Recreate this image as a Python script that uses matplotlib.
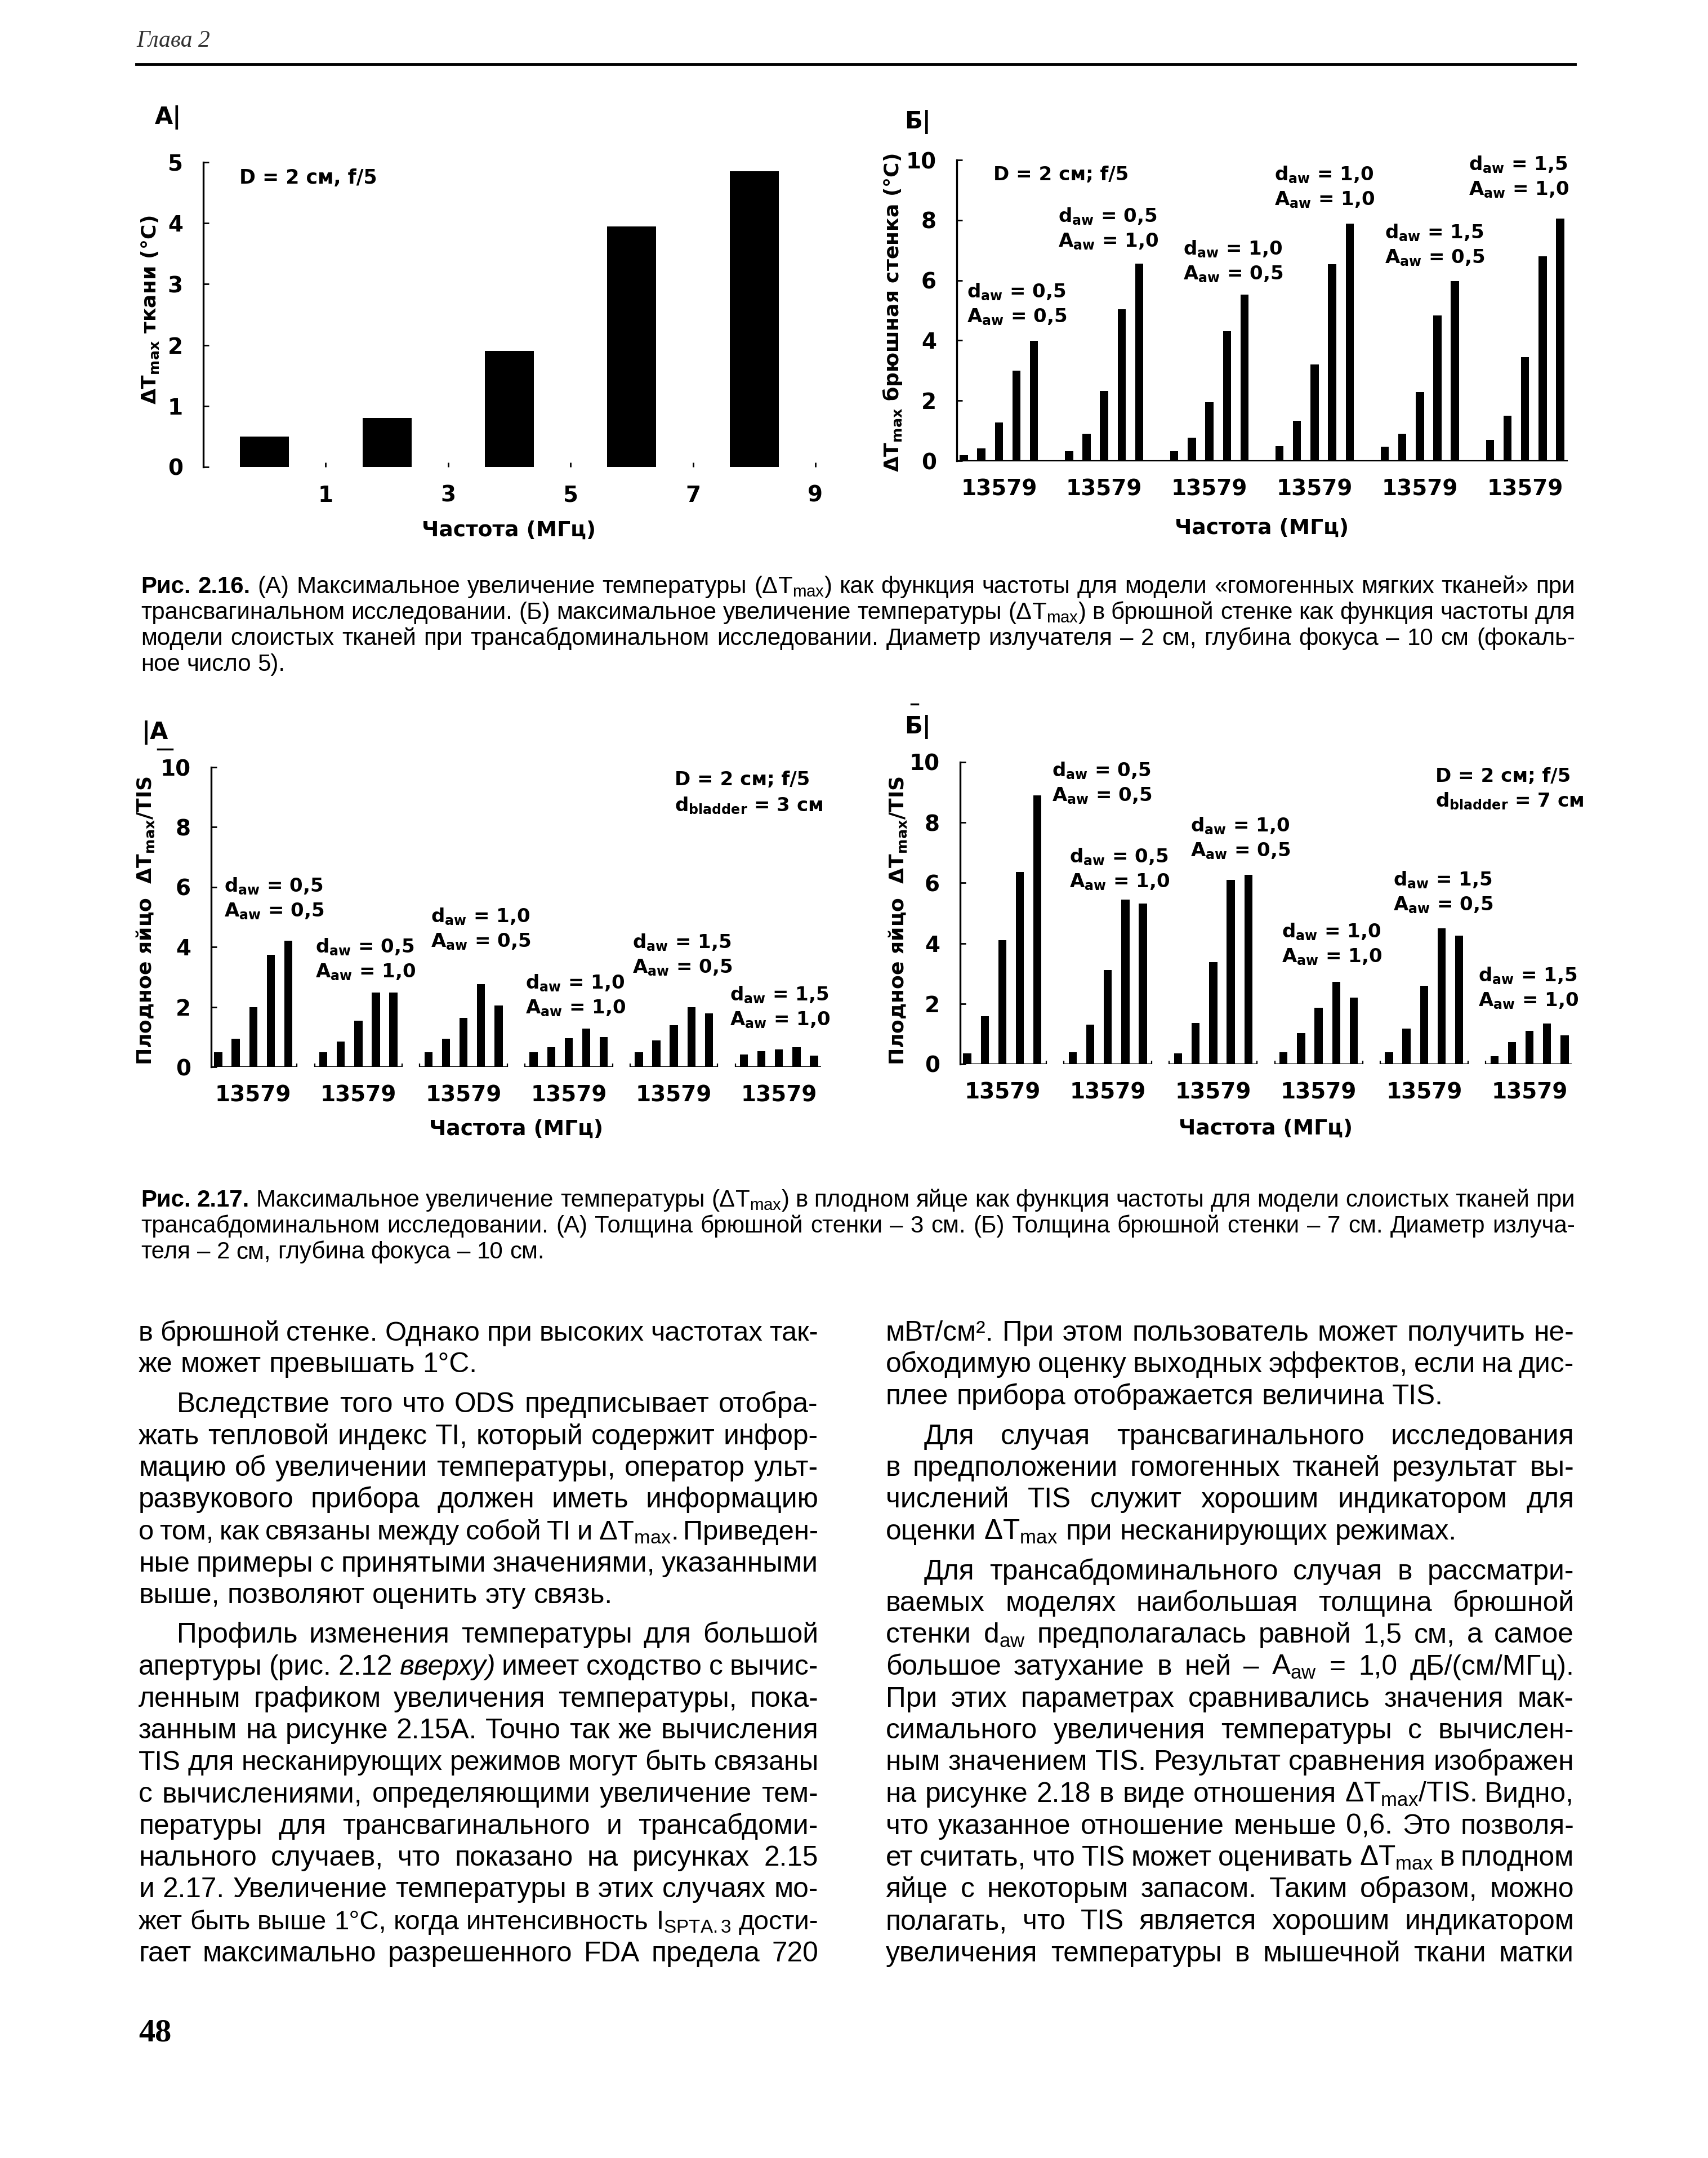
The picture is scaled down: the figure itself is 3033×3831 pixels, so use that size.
import matplotlib
matplotlib.use('Agg')
import matplotlib.pyplot as plt
from matplotlib.lines import Line2D
import numpy as np

W, H, DPI = 3033, 3831, 100

plt.rcParams['font.family'] = ['DejaVu Sans']
plt.rcParams['mathtext.fontset'] = 'custom'
plt.rcParams['mathtext.rm'] = 'Liberation Sans'
plt.rcParams['mathtext.it'] = 'Liberation Sans:italic'
plt.rcParams['mathtext.bf'] = 'Liberation Sans:bold'
TEXT_FONT = ['Liberation Sans', 'DejaVu Sans']

# ---- data ----
freqs = ['1', '3', '5', '7', '9']                 # МГц
tissue_dt = [0.5, 0.8, 1.9, 3.95, 4.85]           # рис. 2.16 А

d_aw = ['0,5', '0,5', '1,0', '1,0', '1,5', '1,5']
a_aw = ['0,5', '1,0', '0,5', '1,0', '0,5', '1,0']

wall_dt = [[0.18, 0.42, 1.28, 3.0, 3.98],         # рис. 2.16 Б
           [0.32, 0.9, 2.33, 5.04, 6.55],
           [0.32, 0.76, 1.95, 4.3, 5.52],
           [0.49, 1.33, 3.2, 6.53, 7.88],
           [0.46, 0.89, 2.29, 4.83, 5.98],
           [0.69, 1.5, 3.45, 6.8, 8.06]]

egg_ratio_3cm = [[0.48, 0.94, 2.0, 3.75, 4.21],   # рис. 2.17 А
                 [0.48, 0.85, 1.54, 2.48, 2.48],
                 [0.48, 0.94, 1.64, 2.77, 2.05],
                 [0.48, 0.65, 0.96, 1.28, 0.99],
                 [0.48, 0.88, 1.4, 2.0, 1.79],
                 [0.41, 0.53, 0.59, 0.65, 0.38]]

egg_ratio_7cm = [[0.36, 1.58, 4.11, 6.36, 8.9],   # рис. 2.17 Б
                 [0.4, 1.31, 3.11, 5.45, 5.31],
                 [0.35, 1.36, 3.37, 6.1, 6.27],
                 [0.4, 1.03, 1.87, 2.73, 2.2],
                 [0.4, 1.17, 2.6, 4.5, 4.26],
                 [0.26, 0.72, 1.1, 1.34, 0.96]]

# where the d/A notes sit (page pixels, first line)
wall_notes = [(1717, 518), (1879, 384), (2101, 442), (2263, 310), (2459, 413), (2608, 292)]
egg3_notes = [(398, 1573), (560, 1681), (765, 1627), (933, 1745), (1123, 1673), (1296, 1766)]
egg7_notes = [(1868, 1368), (1899, 1521), (2114, 1466), (2276, 1654), (2474, 1562), (2625, 1732)]

cap16 = ["§Рис. §2.16. (А) Максимальное увеличение температуры (ΔT$_{\\mathrm{max}}$) как функция частоты для модели «гомогенных мягких тканей» при",
         "трансвагинальном исследовании. (Б) максимальное увеличение температуры (ΔT$_{\\mathrm{max}}$) в брюшной стенке как функция частоты для",
         "модели слоистых тканей при трансабдоминальном исследовании. Диаметр излучателя – 2 см, глубина фокуса – 10 см (фокаль-",
         "ное число 5)."]
cap17 = ["§Рис. §2.17. Максимальное увеличение температуры (ΔT$_{\\mathrm{max}}$) в плодном яйце как функция частоты для модели слоистых тканей при",
         "трансабдоминальном исследовании. (А) Толщина брюшной стенки – 3 см. (Б) Толщина брюшной стенки – 7 см. Диаметр излуча-",
         "теля – 2 см, глубина фокуса – 10 см."]

left_paras = [
    (False, ["в брюшной стенке. Однако при высоких частотах так-",
             "же может превышать 1°С."], True),
    (True, ["Вследствие того что ODS предписывает отобра-",
            "жать тепловой индекс TI, который содержит инфор-",
            "мацию об увеличении температуры, оператор ульт-",
            "развукового прибора должен иметь информацию",
            "о том, как связаны между собой TI и ΔT$_{\\mathrm{max}}$. Приведен-",
            "ные примеры с принятыми значениями, указанными",
            "выше, позволяют оценить эту связь."], True),
    (True, ["Профиль изменения температуры для большой",
            "апертуры (рис. 2.12 ¤вверху) имеет сходство с вычис-",
            "ленным графиком увеличения температуры, пока-",
            "занным на рисунке 2.15А. Точно так же вычисления",
            "TIS для несканирующих режимов могут быть связаны",
            "с вычислениями, определяющими увеличение тем-",
            "пературы для трансвагинального и трансабдоми-",
            "нального случаев, что показано на рисунках 2.15",
            "и 2.17. Увеличение температуры в этих случаях мо-",
            "жет быть выше 1°С, когда интенсивность I$_{\\mathrm{SPTA.3}}$ дости-",
            "гает максимально разрешенного FDA предела 720"], False),
]
right_paras = [
    (False, ["мВт/см². При этом пользователь может получить не-",
             "обходимую оценку выходных эффектов, если на дис-",
             "плее прибора отображается величина TIS."], True),
    (True, ["Для случая трансвагинального исследования",
            "в предположении гомогенных тканей результат вы-",
            "числений TIS служит хорошим индикатором для",
            "оценки ΔT$_{\\mathrm{max}}$ при несканирующих режимах."], True),
    (True, ["Для трансабдоминального случая в рассматри-",
            "ваемых моделях наибольшая толщина брюшной",
            "стенки d$_{\\mathrm{aw}}$ предполагалась равной 1,5 см, а самое",
            "большое затухание в ней – A$_{\\mathrm{aw}}$ = 1,0 дБ/(см/МГц).",
            "При этих параметрах сравнивались значения мак-",
            "симального увеличения температуры с вычислен-",
            "ным значением TIS. Результат сравнения изображен",
            "на рисунке 2.18 в виде отношения ΔT$_{\\mathrm{max}}$/TIS. Видно,",
            "что указанное отношение меньше 0,6. Это позволя-",
            "ет считать, что TIS может оценивать ΔT$_{\\mathrm{max}}$ в плодном",
            "яйце с некоторым запасом. Таким образом, можно",
            "полагать, что TIS является хорошим индикатором",
            "увеличения температуры в мышечной ткани матки"], False),
]

fig = plt.figure(figsize=(W / DPI, H / DPI), dpi=DPI)
fig.patch.set_facecolor('white')
renderer = fig.canvas.get_renderer()


def ftext(x, y, s, **kw):
    return fig.text(x / W, 1 - y / H, s, **kw)


def fline(x0, x1, y0, y1, lw):
    fig.add_artist(Line2D([x0 / W, x1 / W], [1 - y0 / H, 1 - y1 / H], color='black', lw=lw))


def px_axes(l, t, r, b):
    return fig.add_axes([l / W, 1 - b / H, (r - l) / W, (b - t) / H])


def style(ax, yticks):
    for s in ['top', 'right', 'bottom']:
        ax.spines[s].set_visible(False)
    ax.spines['left'].set_linewidth(2.4)
    ax.set_yticks(yticks, [str(v) for v in yticks], fontsize=28, fontweight='bold')
    ax.tick_params(axis='y', direction='in', length=7, width=2, pad=26)
    ax.tick_params(axis='x', direction='in', length=0, pad=23)
    ax.set_facecolor('none')


def grouped(ax, data, segmented):
    n = len(freqs)
    step = n + 1
    centers = []
    for g, vals in enumerate(data):
        x = g * step + np.arange(n)
        ax.bar(x, vals, width=0.46, color='black', linewidth=0)
        if segmented:
            ax.hlines(0, x[0] - 0.5, x[-1] + 0.5, color='black', lw=1.6)
            ax.vlines([x[0] - 0.5, x[-1] + 0.5], 0, 0.12, color='black', lw=1.6)
        centers.append(x.mean())
    ax.set_xlim(-0.4, len(data) * step - 1.6)
    ax.set_xticks(centers, [''.join(freqs)] * len(data), fontsize=28, fontweight='bold')


def notes(pos, size=24.5):
    for (x, y), d, a in zip(pos, d_aw, a_aw):
        ftext(x, y, 'd$_{\\mathbf{aw}}$ = ' + d, fontsize=size, fontweight='bold',
              va='center', math_fontfamily='dejavusans')
        ftext(x, y + 45, 'A$_{\\mathbf{aw}}$ = ' + a, fontsize=size, fontweight='bold',
              va='center', math_fontfamily='dejavusans')


def chart_text(x, y, s, size, rot=0, ha='center'):
    ftext(x, y, s, fontsize=size, fontweight='bold', rotation=rot, ha=ha,
          va='center', math_fontfamily='dejavusans')


# ---- header ----
ftext(242, 73, 'Глава 2', family=['Liberation Serif', 'DejaVu Serif'], style='italic',
      fontsize=30, va='center', color='#333333')
fline(242, 2797, 114, 114, 3.5)

# ---- 2.16 A ----
ax = px_axes(361, 288, 1448, 829)
n = len(tissue_dt)
ax.bar(np.arange(n) * 2, tissue_dt, width=0.8, color='black', linewidth=0)
ax.set_xlim(-1, 2 * n - 1)
ax.set_ylim(0, 5)
style(ax, [0, 1, 2, 3, 4, 5])
ax.set_xticks(np.arange(n) * 2 + 1, freqs, fontsize=28, fontweight='bold')
ax.tick_params(axis='x', direction='in', length=6, width=2)
chart_text(298, 208, 'А|', 30, ha='center')
ftext(425, 316, 'D = 2 см, f/5', fontsize=25, fontweight='bold', va='center')
chart_text(267, 550, 'ΔT$_{\\mathbf{max}}$ ткани (°C)', 26, rot=90)
chart_text(904, 942, 'Частота (МГц)', 27)

# ---- 2.16 Б ----
ax = px_axes(1699, 284, 2783, 818)
grouped(ax, wall_dt, False)
ax.set_ylim(0, 10)
style(ax, [0, 2, 4, 6, 8, 10])
ax.spines['bottom'].set_visible(True)
ax.spines['bottom'].set_linewidth(1.6)
chart_text(1630, 216, 'Б|', 30)
ftext(1764, 310, 'D = 2 см; f/5', fontsize=24.5, fontweight='bold', va='center')
notes(wall_notes)
chart_text(1585, 555, 'ΔT$_{\\mathbf{max}}$ брюшная стенка (°C)', 26, rot=90)
chart_text(2241, 938, 'Частота (МГц)', 27)

# ---- captions and body text helpers ----


def parse(line):
    out = []
    for w in line.split(' '):
        st = {}
        if w.startswith('§'):
            w, st = w[1:], dict(weight='bold')
        elif w.startswith('¤'):
            w, st = w[1:], dict(style='italic')
        out.append((w, st))
    return out


def word_width(s, size, st):
    t = fig.text(0, 0, s, fontsize=size, family=TEXT_FONT, **st)
    w = t.get_window_extent(renderer).width
    t.remove()
    return w


def space_width(size):
    return word_width('x x', size, {}) - word_width('xx', size, {})


def natural_ratio(line, avail, size):
    words = parse(line)
    ws = sum(word_width(w, size, st) for w, st in words)
    return avail / (ws + (len(words) - 1) * space_width(size))


def draw_line(line, x0, x1, y, size, justify):
    words = parse(line)
    while True:
        ws = [word_width(w, size, st) for w, st in words]
        sp = space_width(size)
        ng = max(len(words) - 1, 1)
        if sum(ws) + ng * 0.75 * sp <= x1 - x0:
            break
        size *= 0.985
    gap = (x1 - x0 - sum(ws)) / ng if (justify and len(words) > 1) else sp
    x = x0
    for (w, st), wd in zip(words, ws):
        ftext(x, y, w, fontsize=size, family=TEXT_FONT, va='baseline', ha='left', **st)
        x += wd + gap


CAP_X0, CAP_X1 = 250, 2797
cap_size = 30 * np.percentile([natural_ratio(l, CAP_X1 - CAP_X0, 30) for l in cap16[:-1] + cap17[:-1]], 35)
for i, l in enumerate(cap16):
    draw_line(l, CAP_X0, CAP_X1, 1042 + i * 46 + 11, cap_size, i < len(cap16) - 1)
for i, l in enumerate(cap17):
    draw_line(l, CAP_X0, CAP_X1, 2131 + i * 46 + 11, cap_size, i < len(cap17) - 1)

# ---- 2.17 A ----
ax = px_axes(375, 1362, 1458, 1894)
grouped(ax, egg_ratio_3cm, True)
ax.set_ylim(0, 10)
style(ax, [0, 2, 4, 6, 8, 10])
chart_text(275, 1300, '|А', 30)
fline(280, 306, 1330, 1330, 2.5)
ftext(1198, 1384, 'D = 2 см; f/5', fontsize=24.5, fontweight='bold', va='center')
ftext(1198, 1430, 'd$_{\\mathbf{bladder}}$ = 3 см', fontsize=24.5, fontweight='bold', va='center',
      math_fontfamily='dejavusans')
notes(egg3_notes)
chart_text(258, 1634, 'Плодное яйцо  ΔT$_{\\mathbf{max}}$/TIS', 26, rot=90)
chart_text(917, 2005, 'Частота (МГц)', 27)

# ---- 2.17 Б ----
ax = px_axes(1705, 1353, 2791, 1889)
grouped(ax, egg_ratio_7cm, True)
ax.set_ylim(0, 10)
style(ax, [0, 2, 4, 6, 8, 10])
chart_text(1630, 1290, 'Б|', 30)
fline(1618, 1630, 1250, 1250, 2.5)
ftext(2549, 1378, 'D = 2 см; f/5', fontsize=24.5, fontweight='bold', va='center')
ftext(2549, 1422, 'd$_{\\mathbf{bladder}}$ = 7 см', fontsize=24.5, fontweight='bold', va='center',
      math_fontfamily='dejavusans')
notes(egg7_notes)
chart_text(1594, 1634, 'Плодное яйцо  ΔT$_{\\mathbf{max}}$/TIS', 26, rot=90)
chart_text(2248, 2004, 'Частота (МГц)', 27)

# ---- body text ----
LEFT = (246, 1453)
RIGHT = (1573, 2795)
INDENT = 68
TOP, LS, PG = 2368, 56.5, 14

ratios = []
for paras, (x0, x1) in [(left_paras, LEFT), (right_paras, RIGHT)]:
    for ind, lines, ends in paras:
        for i, l in enumerate(lines):
            if ends and i == len(lines) - 1:
                continue
            ratios.append(natural_ratio(l, x1 - x0 - (INDENT if ind and i == 0 else 0), 30))
body_size = 30 * np.percentile(ratios, 22)

for paras, (x0, x1) in [(left_paras, LEFT), (right_paras, RIGHT)]:
    y = TOP
    for ind, lines, ends in paras:
        for i, l in enumerate(lines):
            start = x0 + (INDENT if ind and i == 0 else 0)
            justify = not (ends and i == len(lines) - 1)
            draw_line(l, start, x1, y + 12, body_size, justify)
            y += LS
        y += PG

ftext(246, 3610, '48', family=['Liberation Serif', 'DejaVu Serif'], fontweight='bold',
      fontsize=42, va='center')

fig.savefig('out.png', dpi=DPI, facecolor='white')
